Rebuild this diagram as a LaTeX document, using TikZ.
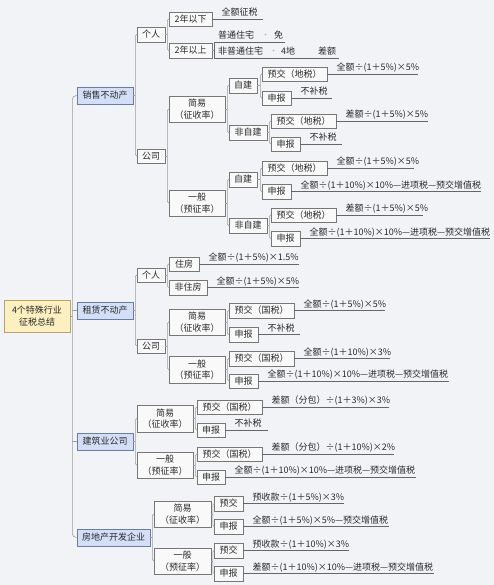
\documentclass[tikz,border=0pt]{standalone}
\usepackage{fontspec}
\setmainfont{Noto Sans CJK SC}
\usetikzlibrary{calc}
\definecolor{bgc}{HTML}{F2F3F7}
\definecolor{boxf}{HTML}{F9F9FA}
\definecolor{boxc}{HTML}{777777}
\definecolor{connc}{HTML}{9C9C9C}
\definecolor{ulc}{HTML}{666666}
\definecolor{lonef}{HTML}{D3DFF6}
\definecolor{loned}{HTML}{6A7BA6}
\definecolor{rootf}{HTML}{FCF0C0}
\definecolor{rootd}{HTML}{B5A46E}
\definecolor{txt}{HTML}{2A2A2A}
\definecolor{dotc}{HTML}{BBBBBB}
\newcommand\fsz{\fontsize{9}{11.5}\selectfont}
\newcommand\Bx[7][box]{%
 \pgfmathsetmacro\mbW{#5-#3}\pgfmathsetmacro\mbH{#6-#4}%
 \pgfmathsetmacro\mbX{(#3+#5)/2}\pgfmathsetmacro\mbY{(#4+#6)/2}%
 \node[#1,minimum width=\mbW pt,minimum height=\mbH pt] (#2) at (\mbX,\mbY) {#7};}
\newcommand\Lf[5]{%
 \pgfmathsetmacro\mlW{#4-#3-9}%
 \node[leaf] (#1) at ([xshift=9pt]#2.east) {\makebox[\mlW pt][l]{#5}};
 \draw[uline] (#2.east) -- (#1.south east);}
\newcommand\Fk[4][2]{%
 \path (#2.east) ++(#1,0) coordinate (#2k);
 \draw[conn] (#2.east) -- (#2k);
 \draw[conn,rounded corners=1.5pt] (#3.west) -- (#2k |- #3.west) -- (#2k |- #4.west) -- (#4.west);}
\begin{document}
\begin{tikzpicture}[x=1pt,y=-1pt,
  box/.style={draw=boxc,fill=boxf,line width=0.6pt,inner sep=0pt,font=\fsz,text=txt,align=center},
  lone/.style={box,fill=lonef,draw=loned},
  root/.style={box,fill=rootf,draw=rootd},
  conn/.style={draw=connc,line width=0.6pt},
  uline/.style={draw=ulc,line width=0.7pt},
  leaf/.style={inner xsep=0pt,inner ysep=1pt,font=\fsz,text=txt,anchor=south west,text height=7.5pt,text depth=2pt}]
\useasboundingbox[fill=bgc] (0,0) rectangle (494,585);
% root
\Bx[root]{R}{4}{300}{70}{332}{4个特殊行业\\征税总结}
\Bx[lone]{s}{77}{87}{133}{104}{销售不动产}
\Bx[lone]{z}{77}{302}{133}{319}{租赁不动产}
\Bx[lone]{j}{77}{433}{133}{450}{建筑业公司}
\Bx[lone]{f}{77}{529}{150}{546}{房地产开发企业}
\path (R.east) ++(2,0) coordinate (Rk);
\draw[conn] (R.east) -- (Rk);
\draw[conn,rounded corners=4pt] (s.west) -- (Rk |- s.west) -- (Rk |- f.west) -- (f.west);
\draw[conn] (Rk |- z.west) -- (z.west);
\draw[conn] (Rk |- j.west) -- (j.west);
% 销售不动产
\Bx{sg}{137}{27}{165}{42}{个人}
\Bx{sc}{137}{149}{165}{163}{公司}
\Fk{s}{sg}{sc}
\Bx{sga}{169}{12}{212}{26}{2年以下}
\Bx{sgb}{169}{43}{212}{58}{2年以上}
\Fk{sg}{sga}{sgb}
\Lf{sgaL}{sga}{212}{262}{全额征税}
\path (sgb.east) ++(2,0) coordinate (sgbk);
\node[leaf] (sgbp) at (218,42) {\makebox[67pt][l]{普通住宅\hspace{7pt}{\color{dotc}·}\hspace{4pt}免}};
\node[leaf] (sgbq) at (218,58) {\makebox[121pt][l]{非普通住宅\hspace{6pt}{\color{dotc}·}\hspace{3pt}4地\hfill 差额\hspace{3pt}}};
\draw[conn] (sgb.east) -- (sgbk);
\draw[uline] (sgbp.south east) -- (sgbk |- sgbp.south) -- (sgbk |- sgbq.south) -- (sgbq.south east);
\Bx{sj}{169}{96}{225}{122}{简易\\（征收率）}
\Bx{sy}{169}{190}{225}{216}{一般\\（预征率）}
\Fk{sc}{sj}{sy}
\Bx{sjz}{229}{78}{257}{93}{自建}
\Bx{sjf}{229}{125}{267}{140}{非自建}
\Fk{sj}{sjz}{sjf}
\Bx{sjza}{262}{67}{327}{81}{预交（地税）}
\Bx{sjzb}{262}{91}{291}{105}{申报}
\Fk[3]{sjz}{sjza}{sjzb}
\Lf{sjzaL}{sjza}{327}{417}{全额÷(1＋5\%)×5\%}
\Lf{sjzbL}{sjzb}{291}{331}{不补税}
\Bx{sjfa}{271}{114}{336}{128}{预交（地税）}
\Bx{sjfb}{271}{137}{300}{151}{申报}
\Fk{sjf}{sjfa}{sjfb}
\Lf{sjfaL}{sjfa}{336}{427}{差额÷(1＋5\%)×5\%}
\Lf{sjfbL}{sjfb}{300}{341}{不补税}
\Bx{syz}{229}{172}{257}{187}{自建}
\Bx{syf}{229}{218}{267}{233}{非自建}
\Fk{sy}{syz}{syf}
\Bx{syza}{262}{161}{327}{175}{预交（地税）}
\Bx{syzb}{262}{184}{291}{199}{申报}
\Fk[3]{syz}{syza}{syzb}
\Lf{syzaL}{syza}{327}{413}{全额÷(1＋5\%)×5\%}
\Lf{syzbL}{syzb}{291}{480}{全额÷(1＋10\%)×10\%—进项税—预交增值税}
\Bx{syfa}{271}{208}{336}{222}{预交（地税）}
\Bx{syfb}{271}{231}{300}{246}{申报}
\Fk{syf}{syfa}{syfb}
\Lf{syfaL}{syfa}{336}{422}{差额÷(1＋5\%)×5\%}
\Lf{syfbL}{syfb}{300}{489}{全额÷(1＋10\%)×10\%—进项税—预交增值税}
% 租赁不动产
\Bx{zg}{137}{268}{165}{282}{个人}
\Bx{zc}{137}{339}{165}{353}{公司}
\Fk{z}{zg}{zc}
\Bx{zga}{169}{257}{199}{271}{住房}
\Bx{zgb}{169}{280}{207}{295}{非住房}
\Fk{zg}{zga}{zgb}
\Lf{zgaL}{zga}{199}{298}{全额÷(1＋5\%)×1.5\%}
\Lf{zgbL}{zgb}{207}{298}{全额÷(1＋5\%)×5\%}
\Bx{zj}{169}{309}{225}{335}{简易\\（征收率）}
\Bx{zy}{169}{356}{225}{383}{一般\\（预征率）}
\Fk{zc}{zj}{zy}
\Bx{zja}{229}{303}{294}{318}{预交（国税）}
\Bx{zjb}{229}{327}{258}{342}{申报}
\Fk{zj}{zja}{zjb}
\Lf{zjaL}{zja}{294}{384}{全额÷(1＋5\%)×5\%}
\Lf{zjbL}{zjb}{258}{299}{不补税}
\Bx{zya}{229}{351}{294}{366}{预交（国税）}
\Bx{zyb}{229}{374}{258}{388}{申报}
\Fk{zy}{zya}{zyb}
\Lf{zyaL}{zya}{294}{389}{全额÷(1＋10\%)×3\%}
\Lf{zybL}{zyb}{258}{448}{全额÷(1＋10\%)×10\%—进项税—预交增值税}
% 建筑业公司
\Bx{jj}{137}{405}{193}{432}{简易\\（征收率）}
\Bx{jy}{137}{452}{193}{478}{一般\\（预征率）}
\Fk{j}{jj}{jy}
\Bx{jja}{197}{400}{262}{414}{预交（国税）}
\Bx{jjb}{197}{423}{225}{437}{申报}
\Fk{jj}{jja}{jjb}
\Lf{jjaL}{jja}{262}{388}{差额（分包）÷(1＋3\%)×3\%}
\Lf{jjbL}{jjb}{225}{267}{不补税}
\Bx{jya}{197}{447}{262}{461}{预交（国税）}
\Bx{jyb}{197}{470}{225}{484}{申报}
\Fk{jy}{jya}{jyb}
\Lf{jyaL}{jya}{262}{393}{差额（分包）÷(1＋10\%)×2\%}
\Lf{jybL}{jyb}{225}{415}{全额÷(1＋10\%)×10\%—进项税—预交增值税}
% 房地产开发企业
\Bx{fj}{154}{501}{211}{527}{简易\\（征收率）}
\Bx{fy}{154}{548}{211}{574}{一般\\（预征率）}
\Fk{f}{fj}{fy}
\Bx{fja}{214}{496}{243}{511}{预交}
\Bx{fjb}{214}{519}{243}{534}{申报}
\Fk[1.5]{fj}{fja}{fjb}
\Lf{fjaL}{fja}{243}{343}{预收款÷(1＋5\%)×3\%}
\Lf{fjbL}{fjb}{243}{388}{全额÷(1＋5\%)×5\%—预交增值税}
\Bx{fya}{214}{543}{243}{558}{预交}
\Bx{fyb}{214}{566}{243}{581}{申报}
\Fk[1.5]{fy}{fya}{fyb}
\Lf{fyaL}{fya}{243}{348}{预收款÷(1＋10\%)×3\%}
\Lf{fybL}{fyb}{243}{433}{差额÷(1＋10\%)×10\%—进项税—预交增值税}
\end{tikzpicture}
\end{document}
